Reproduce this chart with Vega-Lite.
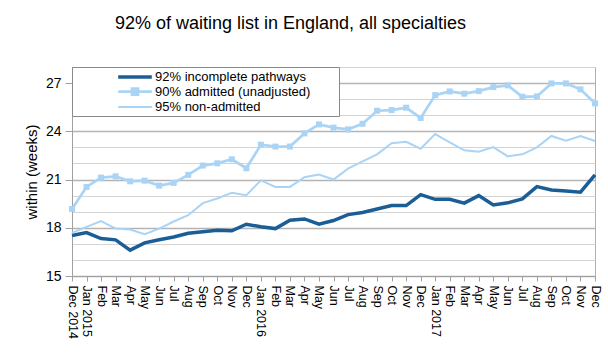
{
  "$schema": "https://vega.github.io/schema/vega-lite/v6.json",
  "width": 523,
  "height": 209,
  "autosize": {"type": "none"},
  "padding": {"left": 72, "top": 67, "right": 13, "bottom": 78},
  "background": "white",
  "config": {
    "font": "Liberation Sans",
    "view": {"stroke": "#b0b0b0", "strokeWidth": 1}
  },
  "title": {
    "text": "92% of waiting list in England, all specialties",
    "fontSize": 18,
    "fontWeight": "normal",
    "font": "Liberation Sans",
    "color": "#000000",
    "anchor": "middle",
    "dx": -43,
    "baseline": "alphabetic",
    "offset": 20
  },
  "data": {
    "values": [
      {"month": "Dec 2014", "a": 17.52, "b": 19.17, "c": 17.68},
      {"month": "Jan 2015", "a": 17.70, "b": 20.54, "c": 18.06},
      {"month": "Feb 2015", "a": 17.33, "b": 21.12, "c": 18.41},
      {"month": "Mar 2015", "a": 17.25, "b": 21.20, "c": 17.95},
      {"month": "Apr 2015", "a": 16.61, "b": 20.89, "c": 17.89},
      {"month": "May 2015", "a": 17.06, "b": 20.93, "c": 17.60},
      {"month": "Jun 2015", "a": 17.25, "b": 20.62, "c": 17.95},
      {"month": "Jul 2015", "a": 17.43, "b": 20.79, "c": 18.39},
      {"month": "Aug 2015", "a": 17.66, "b": 21.29, "c": 18.78},
      {"month": "Sep 2015", "a": 17.75, "b": 21.87, "c": 19.53},
      {"month": "Oct 2015", "a": 17.85, "b": 22.01, "c": 19.82},
      {"month": "Nov 2015", "a": 17.81, "b": 22.26, "c": 20.17},
      {"month": "Dec 2015", "a": 18.22, "b": 21.70, "c": 20.02},
      {"month": "Jan 2016", "a": 18.06, "b": 23.17, "c": 20.95},
      {"month": "Feb 2016", "a": 17.95, "b": 23.05, "c": 20.54},
      {"month": "Mar 2016", "a": 18.47, "b": 23.05, "c": 20.54},
      {"month": "Apr 2016", "a": 18.55, "b": 23.87, "c": 21.14},
      {"month": "May 2016", "a": 18.22, "b": 24.43, "c": 21.31},
      {"month": "Jun 2016", "a": 18.45, "b": 24.23, "c": 21.00},
      {"month": "Jul 2016", "a": 18.82, "b": 24.12, "c": 21.68},
      {"month": "Aug 2016", "a": 18.95, "b": 24.47, "c": 22.13},
      {"month": "Sep 2016", "a": 19.17, "b": 25.28, "c": 22.57},
      {"month": "Oct 2016", "a": 19.38, "b": 25.32, "c": 23.26},
      {"month": "Nov 2016", "a": 19.38, "b": 25.47, "c": 23.35},
      {"month": "Dec 2016", "a": 20.06, "b": 24.83, "c": 22.92},
      {"month": "Jan 2017", "a": 19.77, "b": 26.25, "c": 23.83},
      {"month": "Feb 2017", "a": 19.77, "b": 26.48, "c": 23.31},
      {"month": "Mar 2017", "a": 19.53, "b": 26.34, "c": 22.82},
      {"month": "Apr 2017", "a": 20.00, "b": 26.50, "c": 22.73},
      {"month": "May 2017", "a": 19.42, "b": 26.75, "c": 23.02},
      {"month": "Jun 2017", "a": 19.55, "b": 26.86, "c": 22.44},
      {"month": "Jul 2017", "a": 19.80, "b": 26.15, "c": 22.57},
      {"month": "Aug 2017", "a": 20.56, "b": 26.17, "c": 23.00},
      {"month": "Sep 2017", "a": 20.35, "b": 26.98, "c": 23.71},
      {"month": "Oct 2017", "a": 20.29, "b": 26.98, "c": 23.42},
      {"month": "Nov 2017", "a": 20.21, "b": 26.61, "c": 23.71},
      {"month": "Dec 2017", "a": 21.29, "b": 25.74, "c": 23.40}
    ]
  },
  "transform": [
    {"fold": ["a", "b", "c"], "as": ["key", "value"]},
    {"lookup": "key", "from": {"data": {"values": [
      {"key": "a", "series": "92% incomplete pathways"},
      {"key": "b", "series": "90% admitted (unadjusted)"},
      {"key": "c", "series": "95% non-admitted"}
    ]}, "key": "key", "fields": ["series"]}}
  ],
  "encoding": {
    "x": {
      "field": "month",
      "type": "nominal",
      "sort": null,
      "scale": {"type": "point", "padding": 0},
      "axis": {
        "title": null,
        "labelAngle": 90,
        "labelAlign": "left",
        "labelBaseline": "middle",
        "labelFontSize": 12.5,
        "labelColor": "#000000",
        "labelPadding": 4,
        "labelExpr": "indexof(datum.label,'Jan')==0 || datum.label=='Dec 2014' ? datum.label : slice(datum.label,0,3)",
        "tickColor": "#a0a0a0",
        "tickSize": 5,
        "domainColor": "#a0a0a0",
        "grid": false
      }
    },
    "y": {
      "field": "value",
      "type": "quantitative",
      "scale": {"domain": [15, 28], "nice": false, "zero": false},
      "axis": {
        "title": "within (weeks)",
        "titleFontSize": 15,
        "titleFontWeight": "normal",
        "titleColor": "#000000",
        "titlePadding": 6,
        "values": [15, 16, 17, 18, 19, 20, 21, 22, 23, 24, 25, 26, 27, 28],
        "labelExpr": "datum.value % 3 == 0 ? datum.label : ''",
        "labelFontSize": 14,
        "labelColor": "#000000",
        "labelPadding": 4,
        "tickSize": 7,
        "tickColor": {"condition": {"test": "datum.value % 3 == 0", "value": "#a0a0a0"}, "value": "transparent"},
        "domainColor": "#a0a0a0",
        "grid": true,
        "gridColor": {"condition": {"test": "datum.value % 3 == 0", "value": "#b4b4b4"}, "value": "#d4d4d4"},
        "gridWidth": {"condition": {"test": "datum.value % 3 == 0", "value": 1.6}, "value": 1}
      }
    },
    "color": {
      "field": "series",
      "type": "nominal",
      "scale": {
        "domain": ["92% incomplete pathways", "90% admitted (unadjusted)", "95% non-admitted"],
        "range": ["#1b5e96", "#aad4f5", "#aad4f5"]
      },
      "legend": {
        "title": null,
        "orient": "none",
        "legendX": 0,
        "legendY": 0,
        "direction": "vertical",
        "padding": 2,
        "fillColor": "white",
        "strokeColor": "#8a8a8a",
        "labelFontSize": 13,
        "labelColor": "#000000",
        "labelLimit": 320,
        "symbolSize": 144,
        "symbolOffset": 53,
        "labelOffset": 12,
        "rowPadding": -1,
        "labelExpr": "datum.label + '\u2003\u2003\u200b'",
        "encode": {
          "symbols": {
            "update": {
              "shape": {"signal": "datum.value == '90% admitted (unadjusted)' ? 'M-2.8,0H2.8M-0.5,-0.5H0.5V0.5H-0.5Z' : 'M-2.8,0H2.8'"},
              "strokeWidth": {"signal": "datum.value == '92% incomplete pathways' ? 3.5 : (datum.value == '90% admitted (unadjusted)' ? 2 : 1.5)"},
              "fill": {"signal": "datum.value == '90% admitted (unadjusted)' ? '#aad4f5' : 'transparent'"},
              "opacity": {"value": 1}
            }
          }
        }
      }
    }
  },
  "layer": [
    {
      "mark": {"type": "line"},
      "encoding": {
        "strokeWidth": {
          "field": "series",
          "type": "nominal",
          "scale": {
            "domain": ["92% incomplete pathways", "90% admitted (unadjusted)", "95% non-admitted"],
            "range": [3.5, 2, 1.5]
          },
          "legend": null
        },
        "order": {"field": "key", "sort": "descending"}
      }
    },
    {
      "transform": [{"filter": "datum.key == 'b'"}],
      "mark": {"type": "point", "shape": "square", "filled": true, "size": 36, "opacity": 1}
    }
  ]
}
